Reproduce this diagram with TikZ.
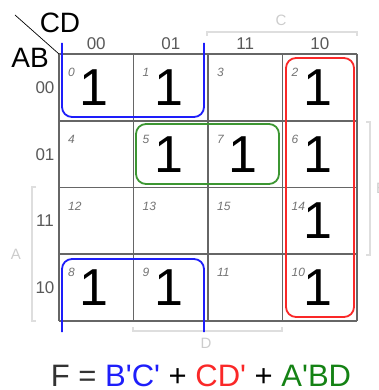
\documentclass[tikz,border=0pt]{standalone}
\usepackage{fontspec}
\setmainfont{Liberation Sans}
\begin{document}
\begin{tikzpicture}[x=1pt,y=-1pt,
  gridline/.style={draw=black!60,line width=1.6pt},
  hdr/.style={text=black!65,font=\fontsize{17}{17}\selectfont,inner sep=0pt},
  one/.style={font=\fontsize{52}{52}\selectfont,inner sep=0pt},
  idx/.style={text=black!55,font=\fontsize{12}{12}\selectfont\itshape,inner sep=0pt,anchor=base west},
  brace/.style={draw=black!13,line width=1.3pt},
  bracelabel/.style={text=black!20,font=\fontsize{15}{15}\selectfont,inner sep=0pt},
  grp/.style={line width=1.8pt,rounded corners=10pt}]
\useasboundingbox (0,0) rectangle (379,390);

% grid: column x = 59,133.5,208,282.5,357 ; row y = 54,120.75,187.5,254.25,321
\foreach \i in {0,...,4} {
  \draw[gridline] ({59+74.5*\i},54) -- ({59+74.5*\i},321);
  \draw[gridline] (59,{54+66.75*\i}) -- (357,{54+66.75*\i});
}

% corner label
\coordinate (dg1) at (15,15);
\coordinate (dg2) at (59,54);
\draw[black,line width=0.7pt] (dg1) -- (dg2);
\node[font=\fontsize{28}{28}\selectfont,inner sep=0pt] (cd) at (60,23) {CD};
\node[font=\fontsize{28}{28}\selectfont,inner sep=0pt] (ab) at (30,58) {AB};

% column and row headings (Gray code order)
\foreach \t [count=\i from 0] in {00,01,11,10} {
  \node[hdr] (col\i) at ({96.25+74.5*\i},44) {\t};
  \node[hdr] (row\i) at (45,{87.4+66.75*\i}) {\t};
}

% minterm numbers
\foreach \r/\rl in {0/{0,1,3,2},1/{4,5,7,6},2/{12,13,15,14},3/{8,9,11,10}} {
  \foreach \m [count=\c from 0] in \rl {
    \node[idx] (m\m) at ({59+74.5*\c+9},{54+66.75*\r+22.5}) {\m};
  }
}

% ones
\foreach \c/\r in {0/0,1/0,3/0,1/1,2/1,3/1,3/2,0/3,1/3,3/3} {
  \node[one] (one\c\r) at ({96.25+74.5*\c-2},{87.4+66.75*\r}) {1};
}

% variable brackets
\draw[brace] (207,36) -- (207,32) -- (357,32) -- (357,36);
\node[bracelabel] (lc) at (281,20) {C};
\draw[brace] (133,327) -- (133,331) -- (282,331) -- (282,327);
\node[bracelabel] (ld) at (206,343) {D};
\draw[brace] (36,187) -- (32,187) -- (32,321) -- (36,321);
\node[bracelabel] (la) at (16,254) {A};
\draw[brace] (366,122) -- (370,122) -- (370,255) -- (366,255);
\node[bracelabel] (lb) at (381,188) {B};

% groups
\definecolor{grpblue}{RGB}{30,30,250}
\definecolor{grpred}{RGB}{250,40,40}
\definecolor{grpgreen}{RGB}{60,150,50}
\draw[grp,grpblue] (62,43) -- (62,117) -- (204,117) -- (204,43);
\draw[grp,grpblue] (62,332) -- (62,259) -- (204,259) -- (204,332);
\draw[grp,grpred] (286,58) rectangle (354,317);
\draw[grp,grpgreen] (136,124) rectangle (279,184);

% simplified expression
\definecolor{fgreen}{RGB}{20,130,20}
\newcommand{\pr}{\textquotesingle}
\node[font=\fontsize{31}{31}\selectfont,inner sep=0pt,text=black!80] (expr) at (201,376)
  {F = \textcolor{grpblue}{B\pr C\pr} \textcolor{black}{+} \textcolor{grpred}{CD\pr} \textcolor{black}{+} \textcolor{fgreen}{A\pr BD}};
\end{tikzpicture}
\end{document}
